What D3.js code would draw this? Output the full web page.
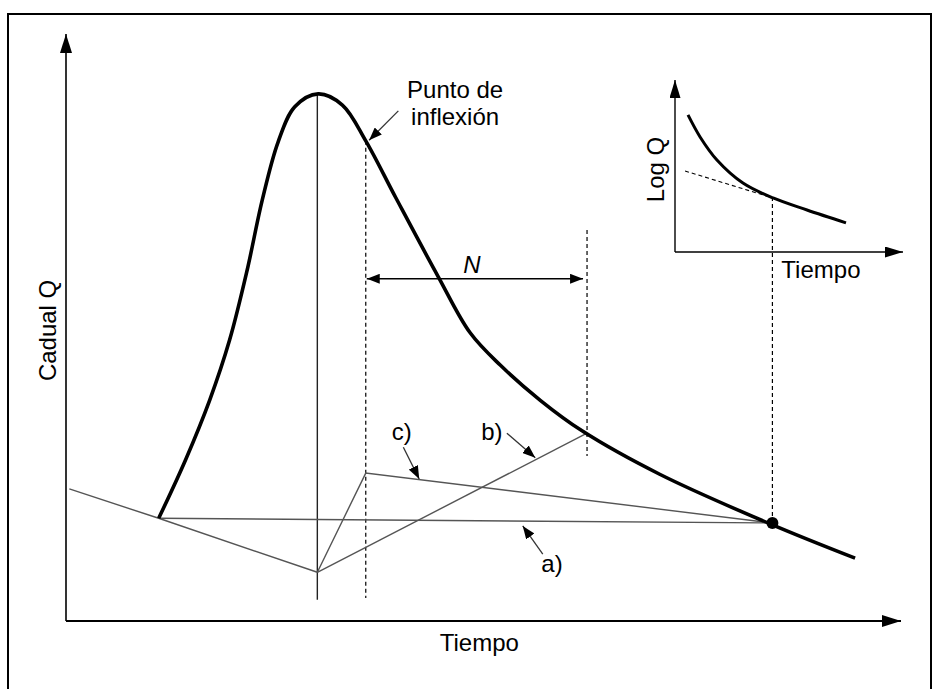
<!DOCTYPE html>
<html>
<head>
<meta charset="utf-8">
<script src="https://cdn.jsdelivr.net/npm/d3@7"></script>
<style>
  body { margin: 0; background: #fff; }
  svg text { font-family: "Liberation Sans", Arial, sans-serif; fill: #000; }
</style>
</head>
<body>
<svg width="941" height="689"></svg>
<script>
// hydrograph (time, Q) in chart units
const hydrograph = [
  [11.1, 17.5], [14.3, 27.4], [17.2, 37.6], [19.6, 47.9], [21.7, 59.8],
  [23.5, 71.7], [25.4, 81.6], [27.4, 87.6], [30.2, 89.8], [33.1, 87.9],
  [35.9, 81.8], [39.5, 72.1], [44.6, 58.6], [48.4, 49.1], [52.0, 43.6],
  [56.8, 37.6], [61.8, 32.4], [71.1, 25.0], [84.4, 16.5], [94.5, 10.7]
];
// baseflow separation lines
const preEvent = [[0.4, 22.5], [11.1, 17.5], [30.1, 8.3]];
const lineA = [[11.1, 17.5], [84.6, 16.7]];
const lineB = [[30.1, 8.3], [62.4, 32.0]];
const lineC = [[30.1, 8.3], [35.9, 25.2], [84.6, 16.7]];
const peakT = 30.1, inflexT = 35.9, nEndT = 62.4, endT = 84.6;
const endPoint = [84.6, 16.7];

// inset: log Q recession
const insetCurve = [
  [0.57, 7.97], [1.10, 6.69], [1.84, 5.35], [2.98, 4.01],
  [4.30, 3.14], [5.79, 2.44], [7.50, 1.69]
];
const insetTangent = [[0.44, 4.71], [4.30, 3.14]];

// annotation labels and pointers
const labels = [
  { text: 'Punto de', at: [46.6, 89.1] },
  { text: 'inflexión', at: [46.6, 84.5] },
  { text: 'c)', at: [40.2, 30.8] },
  { text: 'b)', at: [51.0, 30.8] },
  { text: 'a)', at: [58.2, 8.3] }
];
const pointers = [
  [[39.8, 86.9], [36.3, 81.9]],
  [[40.4, 29.6], [42.3, 24.2]],
  [[52.8, 32.0], [56.2, 27.8]],
  [[57.1, 11.4], [54.7, 16.2]]
];

const svg = d3.select('svg');

const x = d3.scaleLinear().domain([0, 100]).range([66, 901]);
const y = d3.scaleLinear().domain([0, 100]).range([621, 34]);
const ix = d3.scaleLinear().domain([0, 10]).range([675, 903]);
const iy = d3.scaleLinear().domain([0, 10]).range([252, 80]);

const defs = svg.append('defs');
function marker(id, len, half) {
  defs.append('marker')
    .attr('id', id)
    .attr('viewBox', `0 ${-half} ${len} ${half * 2}`)
    .attr('refX', len).attr('refY', 0)
    .attr('markerUnits', 'userSpaceOnUse')
    .attr('markerWidth', len).attr('markerHeight', half * 2)
    .attr('orient', 'auto-start-reverse')
    .append('path')
    .attr('d', `M0,${-half}L${len},0L0,${half}Z`)
    .attr('fill', '#000');
}
marker('axisHead', 19, 6);
marker('insetHead', 18, 5.5);
marker('smallHead', 13, 5);

// frame
svg.append('path')
  .attr('d', 'M8,700V14H931V700')
  .attr('fill', 'none').attr('stroke', '#000').attr('stroke-width', 2);

// main axes
svg.append('line')
  .attr('x1', x(0)).attr('y1', y(0)).attr('x2', x(0)).attr('y2', y(100))
  .attr('stroke', '#000').attr('stroke-width', 1.6)
  .attr('marker-end', 'url(#axisHead)');
svg.append('line')
  .attr('x1', x(0)).attr('y1', y(0)).attr('x2', x(100)).attr('y2', y(0))
  .attr('stroke', '#000').attr('stroke-width', 2)
  .attr('marker-end', 'url(#axisHead)');

svg.append('text')
  .attr('transform', `translate(56,${y(49.5)}) rotate(-90)`)
  .attr('text-anchor', 'middle').attr('font-size', 24)
  .text('Cadual Q');
svg.append('text')
  .attr('x', x(49.5)).attr('y', 651)
  .attr('text-anchor', 'middle').attr('font-size', 24)
  .text('Tiempo');

// verticals
svg.append('line')
  .attr('x1', x(peakT)).attr('x2', x(peakT))
  .attr('y1', y(89.8)).attr('y2', y(3.6))
  .attr('stroke', '#222').attr('stroke-width', 1.4);
const dashed = [
  [inflexT, 81.8, 3.9],
  [nEndT, 66.6, 28.1]
];
svg.selectAll('line.dash')
  .data(dashed)
  .enter().append('line')
  .attr('class', 'dash')
  .attr('x1', d => x(d[0])).attr('x2', d => x(d[0]))
  .attr('y1', d => y(d[1])).attr('y2', d => y(d[2]))
  .attr('stroke', '#000').attr('stroke-width', 1.2)
  .attr('stroke-dasharray', '4,3');
svg.append('line')
  .attr('x1', x(endT)).attr('x2', x(endT))
  .attr('y1', y(endPoint[1])).attr('y2', iy(insetTangent[1][1]))
  .attr('stroke', '#000').attr('stroke-width', 1.2)
  .attr('stroke-dasharray', '4,3');

// separation lines
const thin = d3.line().x(d => x(d[0])).y(d => y(d[1]));
[preEvent, lineA, lineB, lineC].forEach(function(pts) {
  svg.append('path')
    .attr('d', thin(pts))
    .attr('fill', 'none').attr('stroke', '#555').attr('stroke-width', 1.4);
});

// hydrograph
svg.append('path')
  .attr('d', d3.line().x(d => x(d[0])).y(d => y(d[1])).curve(d3.curveCatmullRom)(hydrograph))
  .attr('fill', 'none').attr('stroke', '#000').attr('stroke-width', 3.6);

svg.append('circle')
  .attr('cx', x(endPoint[0])).attr('cy', y(endPoint[1]))
  .attr('r', 6).attr('fill', '#000');

// N span
svg.append('line')
  .attr('x1', x(inflexT) + 1).attr('x2', x(nEndT) - 4)
  .attr('y1', y(58.3)).attr('y2', y(58.3))
  .attr('stroke', '#000').attr('stroke-width', 1.5)
  .attr('marker-start', 'url(#smallHead)')
  .attr('marker-end', 'url(#smallHead)');
svg.append('text')
  .attr('x', x(48.6)).attr('y', y(59.3))
  .attr('text-anchor', 'middle').attr('font-size', 24)
  .attr('font-style', 'italic')
  .text('N');

// labels and pointers
svg.selectAll('text.lbl')
  .data(labels)
  .enter().append('text')
  .attr('class', 'lbl')
  .attr('x', d => x(d.at[0])).attr('y', d => y(d.at[1]))
  .attr('text-anchor', 'middle').attr('font-size', 24)
  .text(d => d.text);
svg.selectAll('line.ptr')
  .data(pointers)
  .enter().append('line')
  .attr('class', 'ptr')
  .attr('x1', d => x(d[0][0])).attr('y1', d => y(d[0][1]))
  .attr('x2', d => x(d[1][0])).attr('y2', d => y(d[1][1]))
  .attr('stroke', '#333').attr('stroke-width', 1.3)
  .attr('marker-end', 'url(#smallHead)');

// inset
svg.append('line')
  .attr('x1', ix(0)).attr('y1', iy(0)).attr('x2', ix(0)).attr('y2', iy(10))
  .attr('stroke', '#000').attr('stroke-width', 1.4)
  .attr('marker-end', 'url(#insetHead)');
svg.append('line')
  .attr('x1', ix(0)).attr('y1', iy(0)).attr('x2', ix(10)).attr('y2', iy(0))
  .attr('stroke', '#000').attr('stroke-width', 1.4)
  .attr('marker-end', 'url(#insetHead)');
svg.append('path')
  .attr('d', d3.line().x(d => ix(d[0])).y(d => iy(d[1])).curve(d3.curveCatmullRom)(insetCurve))
  .attr('fill', 'none').attr('stroke', '#000').attr('stroke-width', 3);
svg.append('path')
  .attr('d', d3.line().x(d => ix(d[0])).y(d => iy(d[1]))(insetTangent))
  .attr('fill', 'none').attr('stroke', '#000').attr('stroke-width', 1.1)
  .attr('stroke-dasharray', '4,3');
svg.append('text')
  .attr('transform', `translate(664,${iy(4.8)}) rotate(-90)`)
  .attr('text-anchor', 'middle').attr('font-size', 24)
  .text('Log Q');
svg.append('text')
  .attr('x', ix(6.4)).attr('y', 278)
  .attr('text-anchor', 'middle').attr('font-size', 24)
  .text('Tiempo');
</script>
</body>
</html>
